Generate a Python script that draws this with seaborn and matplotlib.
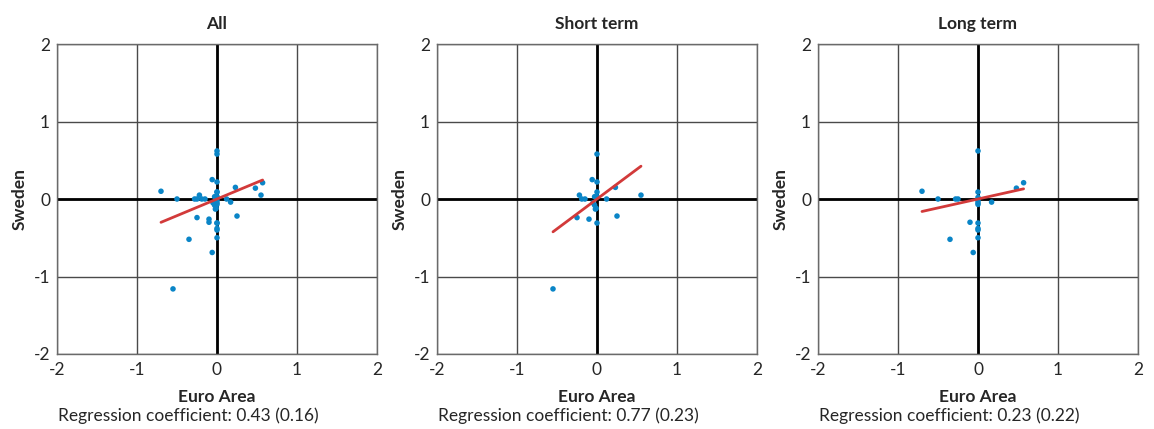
import numpy as np
import pandas as pd
import matplotlib
matplotlib.use("Agg")
import matplotlib.pyplot as plt
import seaborn as sns

# Short-term pairs (Euro Area, Sweden)
short_x = [0.00, -0.06, 0.00, 0.00, -0.22, -0.19, -0.15, -0.03, 0.00, 0.12,
           0.23, 0.55, -0.05, -0.03, -0.01, -0.02, -0.25, -0.10, 0.25, 0.00, -0.55]
short_y = [0.58, 0.25, 0.22, 0.09, 0.05, 0.00, 0.00, 0.03, 0.03, 0.00,
           0.15, 0.05, -0.05, -0.08, -0.12, -0.13, -0.24, -0.26, -0.22, -0.31, -1.16]

# Long-term pairs (Euro Area, Sweden)
long_x = [0.00, -0.70, -0.50, -0.28, -0.25, 0.00, 0.00, 0.00, 0.00, 0.00,
          0.17, 0.48, 0.57, -0.10, 0.00, 0.00, 0.00, 0.00, -0.35, -0.06]
long_y = [0.62, 0.10, 0.00, 0.00, 0.00, 0.09, 0.02, -0.02, -0.05, -0.07,
          -0.04, 0.14, 0.21, -0.30, -0.31, -0.38, -0.40, -0.50, -0.52, -0.69]

titles = ["All", "Short term", "Long term"]
coefs = [0.43, 0.77, 0.23]
std_errs = [0.16, 0.23, 0.22]
ticks = [-2, -1, 0, 1, 2]

sns.set_style("white")
plt.rcParams["font.family"] = ["Lato", "DejaVu Sans"]
plt.rcParams["axes.unicode_minus"] = False

panels = [
    (short_x + long_x, short_y + long_y),
    (short_x, short_y),
    (long_x, long_y),
]

FS = 12.5
W, H = 1154, 429
fig = plt.figure(figsize=(W / 100, H / 100), dpi=100)
lefts = [57, 437, 818]
bottom, width, height = 75, 320, 310

for left, title, coef, se, (xs, ys) in zip(lefts, titles, coefs, std_errs, panels):
    ax = fig.add_axes([left / W, bottom / H, width / W, height / H])
    df = pd.DataFrame({"Euro Area": xs, "Sweden": ys})
    ax.set_xlim(-2, 2)
    ax.set_ylim(-2, 2)
    ax.set_xticks(ticks)
    ax.set_yticks(ticks)
    ax.grid(True, color="#4a4a4a", linewidth=1.0)
    ax.set_axisbelow(True)
    ax.axhline(0, color="black", linewidth=2.0, zorder=1.5)
    ax.axvline(0, color="black", linewidth=2.0, zorder=1.5)
    sns.scatterplot(data=df, x="Euro Area", y="Sweden", ax=ax, color="#0a85c7",
                    s=16, edgecolor="none", zorder=3)
    xline = np.array([df["Euro Area"].min(), df["Euro Area"].max()])
    sns.lineplot(x=xline, y=coef * xline, ax=ax, color="#d23a3a",
                 linewidth=2.0, zorder=4)
    for sp in ax.spines.values():
        sp.set_color("#6a6a6a")
        sp.set_linewidth(1.0)
    ax.tick_params(axis="x", length=0, labelsize=FS, pad=6)
    ax.tick_params(axis="y", length=0, labelsize=FS, pad=5)
    ax.set_title(title, fontsize=FS, fontweight="bold", pad=11)
    ax.set_xlabel("Euro Area", fontsize=FS, fontweight="bold", labelpad=8)
    ax.set_ylabel("Sweden", fontsize=FS, fontweight="bold", labelpad=4)
    fig.text((left + 1) / W, 1 - 416 / H,
             f"Regression coefficient: {coef:.2f} ({se:.2f})",
             fontsize=FS, ha="left", va="center")

fig.savefig("out.png", dpi=100)
